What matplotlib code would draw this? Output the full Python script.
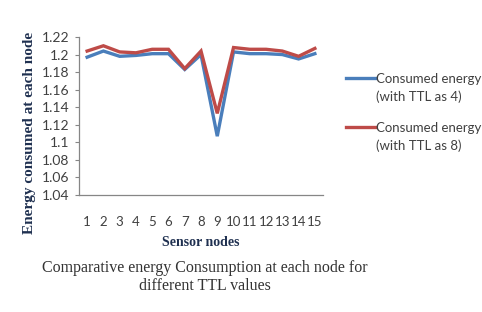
import matplotlib
matplotlib.use("Agg")
import matplotlib.pyplot as plt
import numpy as np
from matplotlib.legend_handler import HandlerLine2D
from matplotlib.lines import Line2D

nodes = list(range(1, 16))
energy_ttl4 = [1.197, 1.204, 1.198, 1.199, 1.201, 1.201, 1.183, 1.200,
               1.107, 1.203, 1.201, 1.201, 1.200, 1.195, 1.201]
energy_ttl8 = [1.204, 1.210, 1.203, 1.202, 1.206, 1.206, 1.184, 1.204,
               1.133, 1.208, 1.206, 1.206, 1.204, 1.198, 1.207]
y_ticks = [1.04, 1.06, 1.08, 1.1, 1.12, 1.14, 1.16, 1.18, 1.2, 1.22]
y_tick_labels = ["1.04", "1.06", "1.08", "1.1", "1.12", "1.14", "1.16", "1.18", "1.2", "1.22"]
labels = ["Consumed energy\n(with TTL as 4)", "Consumed energy\n(with TTL as 8)"]

BLUE = "#4a7ebb"
RED = "#be4b48"
NAVY = "#1f3050"
SANS = "Lato"
SERIF = "Liberation Serif"


class TopLineHandler(HandlerLine2D):
    # put the legend line level with the first text line
    def create_artists(self, legend, orig_handle, xdescent, ydescent,
                       width, height, fontsize, trans):
        artists = super().create_artists(legend, orig_handle, xdescent, ydescent,
                                         width, height, fontsize, trans)
        for a in artists:
            if isinstance(a, Line2D):
                a.set_ydata(np.asarray(a.get_ydata()) + fontsize * 0.8)
        return artists


fig = plt.figure(figsize=(4.82, 3.12), dpi=100)
ax = fig.add_axes([79 / 482, 117 / 312, 244 / 482, 158 / 312])

l4, = ax.plot(nodes, energy_ttl4, color=BLUE, lw=2.4, solid_joinstyle="miter")
l8, = ax.plot(nodes, energy_ttl8, color=RED, lw=2.4, solid_joinstyle="miter")

ax.set_xlim(0.5, 15.5)
ax.set_ylim(1.04, 1.22)
ax.set_xticks(nodes)
ax.set_xticklabels([str(n) for n in nodes], fontfamily=SANS, fontsize=9.5, color="#404040")
ax.set_yticks(y_ticks)
ax.set_yticklabels(y_tick_labels, fontfamily=SANS, fontsize=10, color="#404040")
ax.tick_params(axis="x", length=0, pad=15)
ax.tick_params(axis="y", length=3, width=0.8, color="#868686", pad=4)

for side in ["top", "right"]:
    ax.spines[side].set_visible(False)
for side in ["left", "bottom"]:
    ax.spines[side].set_color("#868686")
    ax.spines[side].set_linewidth(0.9)

fig.text(30 / 482, 1 - 133 / 312, "Energy consumed at each node", rotation=90,
         ha="center", va="center", fontfamily=SERIF, fontweight="bold",
         fontsize=11, color=NAVY)
fig.text(201 / 482, 1 - 242 / 312, "Sensor nodes", ha="center", va="center",
         fontfamily=SERIF, fontweight="bold", fontsize=10, color=NAVY)

fig.text(205 / 482, 1 - 277 / 312,
         "Comparative energy Consumption at each node for\ndifferent TTL values",
         ha="center", va="center", fontfamily=SERIF, fontsize=11.5,
         color="#333333", linespacing=1.25)

leg = ax.legend([l4, l8], labels, loc="upper left",
                bbox_to_anchor=(346 / 482, 1 - 73 / 312), bbox_transform=fig.transFigure,
                frameon=False, prop={"family": SANS, "size": 9.5},
                handlelength=2.2, handletextpad=0.1, labelspacing=1.45,
                borderaxespad=0, borderpad=0,
                handler_map={Line2D: TopLineHandler()})
for t in leg.get_texts():
    t.set_color("#404040")
    t.set_linespacing(1.5)
for h in leg.get_lines():
    h.set_linewidth(2.4)

fig.savefig("out.png", dpi=100)
